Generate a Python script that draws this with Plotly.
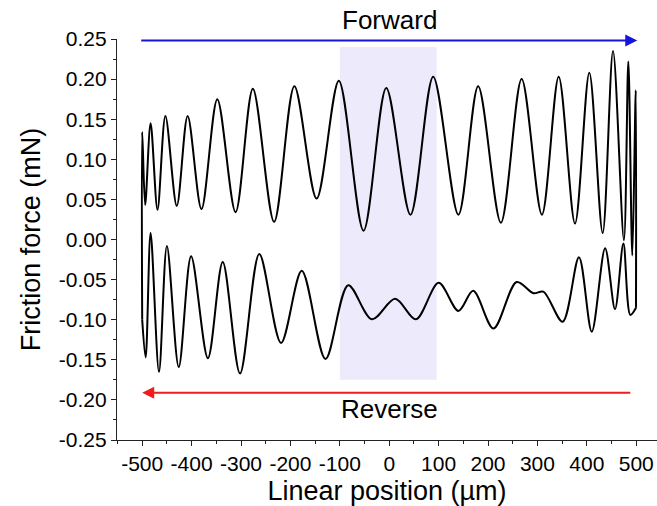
import plotly.graph_objects as go

# Forward sweep (friction force, mN) vs linear position (µm)
FWD_X = [-500, -500, -494, -483, -469, -453, -430, -408, -380, -348, -311, -276, -233, -192,
         -147, -102, -52, -6, 43, 89, 140, 180, 226, 268, 309, 343, 376, 405, 432, 453,
         475, 484, 492, 499, 499.5]
FWD_Y = [-0.100, 0.134, 0.043, 0.145, 0.037, 0.154, 0.042, 0.154, 0.038, 0.175, 0.034, 0.188,
         0.022, 0.191, 0.051, 0.198, 0.011, 0.189, 0.031, 0.203, 0.031, 0.191, 0.021, 0.200,
         0.031, 0.203, 0.020, 0.208, 0.008, 0.235, -0.001, 0.222, -0.020, 0.186, -0.085]

# Reverse sweep (traversed from +500 to -500)
REV_X = [499.5, 488, 474, 457, 437, 410, 384, 351, 312, 292, 258, 211, 170, 140, 100, 54, 12,
         -35, -83, -129, -177, -219, -263, -302, -337, -367, -401, -426, -450, -466, -483,
         -493, -500]
REV_Y = [-0.085, -0.094, -0.005, -0.087, -0.011, -0.115, -0.022, -0.1025, -0.065, -0.067,
         -0.053, -0.111, -0.064, -0.089, -0.054, -0.0995, -0.074, -0.0995, -0.057, -0.149,
         -0.039, -0.129, -0.018, -0.167, -0.028, -0.148, -0.021, -0.159, -0.008, -0.165,
         0.008, -0.147, -0.100]

X_TICKS = [-500, -400, -300, -200, -100, 0, 100, 200, 300, 400, 500]
X_TICK_LABELS = ["-500", "-400", "-300", "-200", "-100", "0", "100", "200", "300", "400", "500"]
Y_TICKS = [-0.25, -0.20, -0.15, -0.10, -0.05, 0.00, 0.05, 0.10, 0.15, 0.20, 0.25]
Y_TICK_LABELS = ["-0.25", "-0.20", "-0.15", "-0.10", "-0.05", "0.00", "0.05", "0.10",
                 "0.15", "0.20", "0.25"]

HIGHLIGHT_X = [-100, 96]
HIGHLIGHT_Y = [-0.175, 0.24]
FORWARD_ARROW_X = [-505, 502]
FORWARD_ARROW_Y = 0.248
REVERSE_ARROW_X = [491, -500]
REVERSE_ARROW_Y = -0.191

FONT = "Liberation Sans, Arial, sans-serif"

fig = go.Figure()

fig.add_shape(type="rect", xref="x", yref="y",
              x0=HIGHLIGHT_X[0], x1=HIGHLIGHT_X[1], y0=HIGHLIGHT_Y[0], y1=HIGHLIGHT_Y[1],
              fillcolor="#ECEAFB", line=dict(width=0), layer="below")

line_style = dict(color="black", width=2, shape="spline", smoothing=0.9)
fig.add_trace(go.Scatter(x=FWD_X, y=FWD_Y, mode="lines", line=line_style,
                         showlegend=False, hoverinfo="skip"))
fig.add_trace(go.Scatter(x=REV_X, y=REV_Y, mode="lines", line=line_style,
                         showlegend=False, hoverinfo="skip"))

# Direction arrows
fig.add_annotation(x=FORWARD_ARROW_X[1], y=FORWARD_ARROW_Y, ax=FORWARD_ARROW_X[0],
                   ay=FORWARD_ARROW_Y, xref="x", yref="y", axref="x", ayref="y",
                   showarrow=True, arrowhead=2, arrowsize=1.2, arrowwidth=2,
                   arrowcolor="#1414DC", text="")
fig.add_annotation(x=REVERSE_ARROW_X[1], y=REVERSE_ARROW_Y, ax=REVERSE_ARROW_X[0],
                   ay=REVERSE_ARROW_Y, xref="x", yref="y", axref="x", ayref="y",
                   showarrow=True, arrowhead=2, arrowsize=1.2, arrowwidth=2,
                   arrowcolor="#F01C1C", text="")
fig.add_annotation(x=0, y=1.047, xref="x", yref="paper", yanchor="middle", text="Forward",
                   showarrow=False, font=dict(family=FONT, size=26, color="black"))
fig.add_annotation(x=0, y=-0.211, xref="x", yref="y", yanchor="middle", text="Reverse",
                   showarrow=False, font=dict(family=FONT, size=26, color="black"))

axis_common = dict(showline=True, linecolor="#222222", linewidth=1.3, ticks="outside",
                   ticklen=5, tickwidth=1.3, tickcolor="#222222", showgrid=False,
                   zeroline=False, mirror=False,
                   tickfont=dict(family=FONT, size=21, color="black"))

fig.update_xaxes(range=[-551, 542], tickmode="array", tickvals=X_TICKS,
                 ticktext=X_TICK_LABELS, ticklabelstandoff=0,
                 minor=dict(ticks="outside", ticklen=3, tickwidth=1.2, tickcolor="#222222",
                            dtick=50, tick0=0, showgrid=False),
                 title=dict(text="Linear position (µm)",
                            font=dict(family=FONT, size=27, color="black"), standoff=9),
                 **axis_common)
fig.update_yaxes(range=[-0.25, 0.25], tickmode="array", tickvals=Y_TICKS,
                 ticktext=Y_TICK_LABELS,
                 minor=dict(ticks="outside", ticklen=3, tickwidth=1.2, tickcolor="#222222",
                            dtick=0.025, tick0=0, showgrid=False),
                 title=dict(text="Friction force (mN)",
                            font=dict(family=FONT, size=27, color="black"), standoff=10),
                 **axis_common)

fig.update_layout(width=657, height=506, margin=dict(l=117, r=0, t=39, b=66, autoexpand=False),
                  plot_bgcolor="white", paper_bgcolor="white")

fig.write_html("out.html")
